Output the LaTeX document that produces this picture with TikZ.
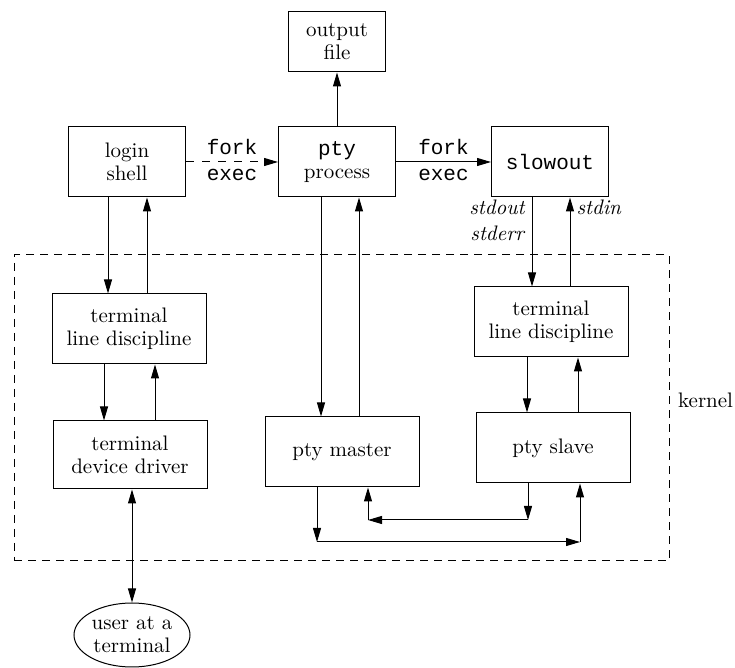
\documentclass[tikz,border=0pt]{standalone}
\usepackage{fontspec}
\setmonofont{Liberation Mono}
\usetikzlibrary{arrows.meta,shapes.geometric}

\begin{document}
\begin{tikzpicture}[
  x=0.5pt, y=-0.5pt, line width=0.5pt,
  font=\fontsize{10.5}{11.5}\selectfont,
  box/.style={draw, align=center, minimum width=58.5pt, minimum height=35pt,
              inner sep=1pt},
  widebox/.style={box, minimum width=77pt},
  kbox/.style={draw, dash pattern=on 4pt off 3pt},
  >={Triangle[length=7pt,width=4pt]}]
\useasboundingbox (0,0) rectangle (735,668);

% ---------------- processes ----------------
\node[box, minimum width=48.5pt, minimum height=30pt] (outfile) at (337,42)
  {output\\file};
\node[box] (login)   at (127,162) {login\\shell};
\node[box] (ptyproc) at (337,162) {\texttt{pty}\\process};
\node[box] (slowout) at (550,162) {\texttt{slowout}};

% ---------------- kernel ----------------
\node[kbox, minimum width=327.5pt, minimum height=153pt] (kernelbox)
  at (341.5,408) {};
\node[anchor=west] (kernellbl) at (671,400) {kernel};
\node[widebox] (ldiscL) at (129,329) {terminal\\line discipline};
\node[widebox, minimum height=34pt] (driver) at (130,455)
  {terminal\\device driver};
\node[widebox] (ldiscR) at (551,322) {terminal\\line discipline};
\node[widebox] (master) at (342,452) {pty master};
\node[widebox] (slave)  at (553,448) {pty slave};
\node[ellipse, draw, align=center, inner sep=0pt, minimum width=58pt,
      minimum height=32pt] (user) at (132,635) {user at a\\terminal};

% fork/exec
\draw[->, dash pattern=on 4pt off 4pt] (login) --
  node[above] {\texttt{fork}} node[below] {\texttt{exec}} (ptyproc);
\draw[->] (ptyproc) --
  node[above] {\texttt{fork}} node[below] {\texttt{exec}} (slowout);
\draw[->] (ptyproc) -- (outfile);

% down and up pairs
\foreach \a/\b/\x in {login/ldiscL/108, ldiscL/driver/104,
                      ptyproc/master/321, slowout/ldiscR/532, ldiscR/slave/527}{
  \draw[->] (\a.south -| \x,0) -- (\b.north -| \x,0);}
\foreach \a/\b/\x in {ldiscL/login/147, driver/ldiscL/155,
                      master/ptyproc/359, ldiscR/slowout/570, slave/ldiscR/578}{
  \draw[->] (\a.north -| \x,0) -- (\b.south -| \x,0);}
\draw[<->] (driver.south -| user) -- (user);

\node[anchor=east, align=right, inner sep=2pt] (outlbl) at (530,220)
  {\textit{stdout}\\[1.5pt]\textit{stderr}};
\node[anchor=west, inner sep=2pt] (inlbl) at (572,207) {\textit{stdin}};

% master <-> slave
\coordinate (mA) at (317,542);
\coordinate (sA) at (580,542);
\coordinate (sB) at (528,520);
\coordinate (mB) at (368,520);
\draw[->] (master.south -| mA) -- (mA);
\draw[->] (mA) -- (sA);
\draw[->] (sA) -- (slave.south -| sA);
\draw[->] (slave.south -| sB) -- (sB);
\draw[->] (sB) -- (mB);
\draw[->] (mB) -- (master.south -| mB);
\end{tikzpicture}
\end{document}
